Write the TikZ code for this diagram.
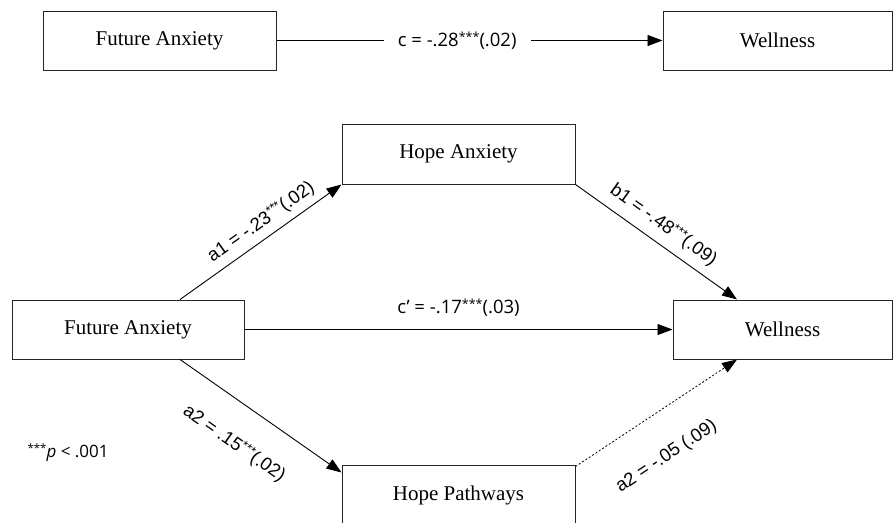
\documentclass[tikz,border=0pt]{standalone}
\usepackage{fontspec}
\setmainfont{Liberation Serif}
\newfontfamily\labfont{Open Sans}
\newfontfamily\slfont{Liberation Sans}
\usetikzlibrary{arrows.meta}
\newcommand\mystars{\raisebox{0.55ex}{\fontsize{12.5}{12.5}\selectfont ***}}
\begin{document}
\begin{tikzpicture}[x=1pt,y=-1pt,
  box/.style={draw=black!85, line width=1pt, inner sep=0pt,
    font=\fontsize{21}{25}\selectfont},
  conn/.style={line width=0.9pt, -{Triangle[length=15pt,width=11pt]}},
  hlab/.style={font=\labfont\fontsize{18.5}{22}\selectfont},
  slab/.style={font=\slfont\fontsize{18.5}{22}\selectfont, sloped, anchor=center},
  dotline/.style={line width=0.8pt, dash pattern=on 2pt off 2pt, -{Triangle[length=15pt,width=11pt]}}]
\useasboundingbox[fill=white] (0,0) rectangle (893,522);

% top model
\node[box, minimum width=233pt, minimum height=59pt] (fa1) at (159.5,40.5) {Future Anxiety};
\node[box, minimum width=229pt, minimum height=59pt] (w1) at (777.5,40.5) {Wellness};
\draw[conn] (fa1.east) -- node[pos=0.468, fill=white, inner xsep=14pt, hlab] {c = -.28\mystars(.02)} (w1.west);

% bottom model
\node[box, minimum width=232pt, minimum height=59pt] (fa2) at (128,329.5) {Future Anxiety};
\node[box, minimum width=219pt, minimum height=59pt] (w2) at (782.5,329.5) {Wellness};
\node[box, minimum width=233pt, minimum height=60pt] (ha) at (458.5,154) {Hope Anxiety};
\node[box, minimum width=233pt, minimum height=60pt] (hp) at (458.5,495) {Hope Pathways};

\draw[conn] ([xshift=52pt]fa2.north) -- node[slab, pos=0.56, yshift=16pt] {a1 = -.23\mystars(.02)} (ha.south west);
\draw[conn] (ha.south east) -- node[slab, pos=0.48, yshift=18pt] {b1 = -.48\mystars(.09)} ([xshift=-45.5pt]w2.north);
\draw[conn] (fa2.east) -- node[hlab, pos=0.5, yshift=22pt] {c’ = -.17\mystars(.03)} (w2.west);
\draw[conn] ([xshift=52pt]fa2.south) -- node[slab, pos=0.47, yshift=-38pt] {a2 = .15\mystars(.02)} ([yshift=-8pt]hp.north west);
\draw[dotline] ([yshift=-2pt]hp.north east) -- node[slab, pos=0.42, yshift=-42pt] {a2 = -.05 (.09)} ([xshift=-45.5pt]w2.south);

\node[font=\labfont\fontsize{17}{20}\selectfont, anchor=west] (note) at (24,453) {\raisebox{0.55ex}{\fontsize{11.5}{11.5}\selectfont ***}\textit{p} < .001};
\end{tikzpicture}
\end{document}
